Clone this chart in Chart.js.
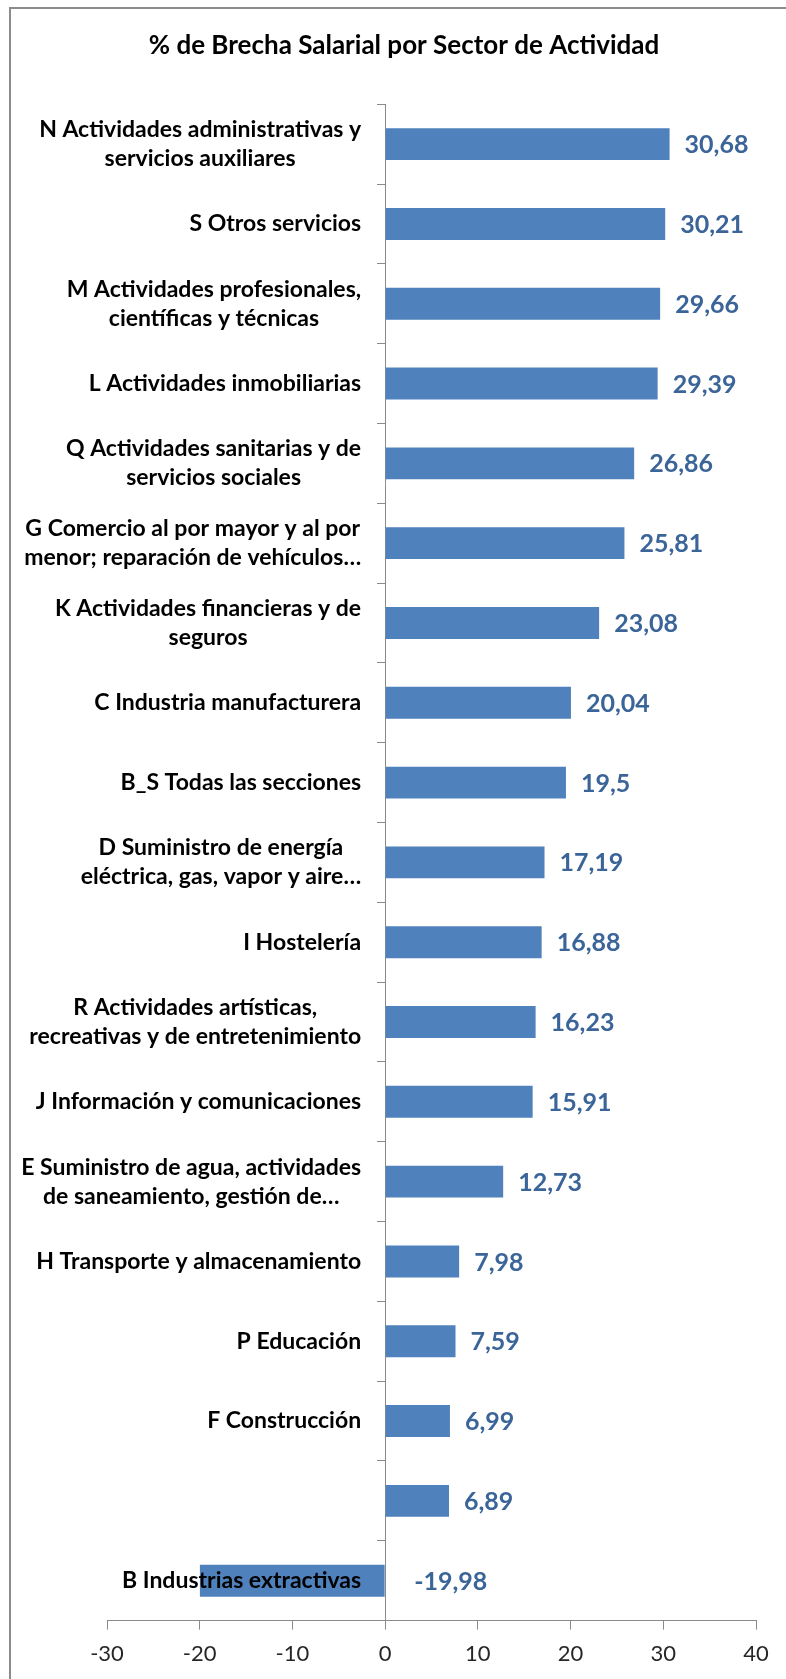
<!DOCTYPE html>
<html lang="es">
  <head>
    <meta charset="UTF-8" />
    <title>% de Brecha Salarial por Sector de Actividad</title>
    <script src="https://cdn.jsdelivr.net/npm/chart.js"></script>
    <style>
      html, body {
        margin: 0;
        overflow: hidden;
        background: #ffffff;
      }

      #frame {
        position: absolute;
        left: 9px;
        top: 7px;
        right: 0;
        bottom: 0;
        border-left: 2px solid #8c8c8c;
        border-top: 2px solid #8c8c8c;
      }

      #chart {
        position: absolute;
        left: 0;
        top: 0;
      }
    </style>
  </head>

  <body>
    <div id="frame"></div>
    <canvas id="chart" width="786" height="1679"></canvas>

    <script>
      const titleText = "% de Brecha Salarial por Sector de Actividad";

      const sectors = [
        ["N Actividades administrativas y", "servicios auxiliares"],
        "S Otros servicios",
        ["M Actividades profesionales,", "científicas y técnicas"],
        "L Actividades inmobiliarias",
        ["Q Actividades sanitarias y de", "servicios sociales"],
        ["G Comercio al por mayor y al por", "menor; reparación de vehículos…"],
        ["K Actividades financieras y de", "seguros"],
        "C Industria manufacturera",
        "B_S Todas las secciones",
        ["D Suministro de energía", "eléctrica, gas, vapor y aire…"],
        "I Hostelería",
        ["R Actividades artísticas,", "recreativas y de entretenimiento"],
        "J Información y comunicaciones",
        ["E Suministro de agua, actividades", "de saneamiento, gestión de…"],
        "H Transporte y almacenamiento",
        "P Educación",
        "F Construcción",
        "",
        "B Industrias extractivas"
      ];

      const brecha = [30.68, 30.21, 29.66, 29.39, 26.86, 25.81, 23.08, 20.04, 19.5, 17.19,
        16.88, 16.23, 15.91, 12.73, 7.98, 7.59, 6.99, 6.89, -19.98];

      const xMin = -30;
      const xMax = 40;
      const xStep = 10;

      const barColor = '#4F81BD';
      const valueColor = '#3B6598';
      const axisColor = '#8a8a8a';

      // etiquetas de sector centradas junto al eje y valores a la derecha de cada barra
      const labelPlugin = {
        id: 'sectorLabels',
        afterDatasetsDraw(chart) {
          const { ctx, scales: { x, y } } = chart;
          const zero = x.getPixelForValue(0);
          ctx.save();
          ctx.font = 'bold 23px Lato';
          ctx.fillStyle = '#000000';
          ctx.textAlign = 'center';
          ctx.textBaseline = 'middle';
          sectors.forEach((lab, i) => {
            const lines = [].concat(lab);
            const w = Math.max(...lines.map(l => ctx.measureText(l).width));
            const cx = zero - 24 - w / 2;
            const cy = y.getPixelForValue(i);
            lines.forEach((l, k) => {
              ctx.fillText(l, cx, cy + (k - (lines.length - 1) / 2) * 29);
            });
          });

          ctx.font = 'bold 25px Lato';
          ctx.fillStyle = valueColor;
          ctx.textAlign = 'left';
          brecha.forEach((v, i) => {
            const px = v >= 0 ? x.getPixelForValue(v) + 15 : zero + 29;
            ctx.fillText(String(v).replace('.', ','), px, y.getPixelForValue(i) + 1);
          });
          ctx.restore();
        }
      };

      Chart.defaults.font.family = 'Lato';

      new Chart(document.getElementById('chart'), {
        type: 'bar',
        data: {
          labels: sectors,
          datasets: [{
            data: brecha,
            backgroundColor: barColor,
            categoryPercentage: 1,
            barPercentage: 0.4
          }]
        },
        options: {
          indexAxis: 'y',
          responsive: false,
          animation: false,
          devicePixelRatio: 1,
          layout: {
            padding: { left: 52, right: 30, top: 0, bottom: 1 }
          },
          plugins: {
            legend: { display: false },
            tooltip: { enabled: false },
            title: {
              display: true,
              text: titleText,
              color: '#000000',
              font: { size: 26, weight: 'bold' },
              padding: { top: 30, bottom: 43 }
            }
          },
          scales: {
            x: {
              min: xMin,
              max: xMax,
              ticks: {
                stepSize: xStep,
                color: '#262626',
                font: { size: 22 },
                padding: 11
              },
              grid: {
                drawOnChartArea: false,
                tickLength: 9,
                color: axisColor
              },
              border: { color: axisColor }
            },
            y: {
              position: { x: 0 },
              ticks: { display: false },
              grid: {
                offset: true,
                drawOnChartArea: false,
                tickLength: 8,
                color: axisColor
              },
              border: { color: axisColor }
            },
            pad: {
              type: 'linear',
              position: 'left',
              ticks: { display: false },
              grid: { display: false },
              border: { display: false },
              afterFit(scale) {
                scale.width = 55;
              }
            }
          }
        },
        plugins: [labelPlugin]
      });
    </script>
  </body>
</html>
